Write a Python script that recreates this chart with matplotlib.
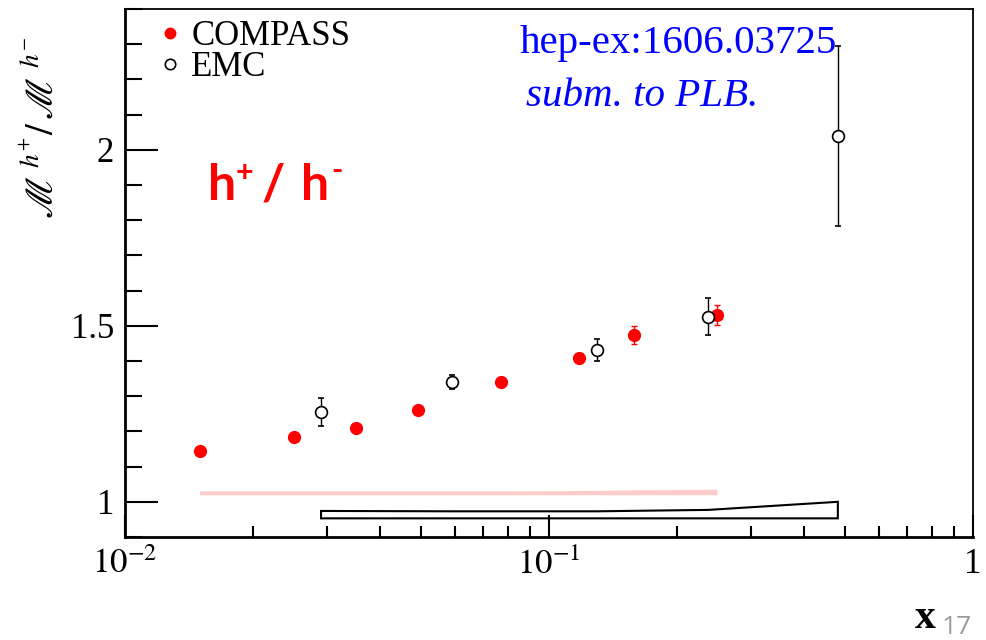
import numpy as np
import matplotlib
matplotlib.use("Agg")
import matplotlib.pyplot as plt
from matplotlib.lines import Line2D
from matplotlib.ticker import LogLocator, MultipleLocator, FixedLocator, NullFormatter

plt.rcParams['font.family'] = ['Liberation Serif', 'DejaVu Serif']
plt.rcParams['mathtext.fontset'] = 'stix'

# COMPASS h+/h- multiplicity ratio
x_compass = [0.015, 0.025, 0.035, 0.049, 0.077, 0.118, 0.159, 0.249]
y_compass = [1.145, 1.185, 1.210, 1.260, 1.341, 1.409, 1.474, 1.531]
e_compass = [0.005, 0.005, 0.006, 0.007, 0.008, 0.010, 0.026, 0.028]
syst_compass = [0.011, 0.011, 0.011, 0.011, 0.011, 0.012, 0.014, 0.016]

# EMC
x_emc = [0.029, 0.059, 0.130, 0.2375, 0.48]
y_emc = [1.256, 1.341, 1.432, 1.526, 2.04]
e_emc = [0.040, 0.020, 0.031, 0.053, 0.256]
syst_emc_top = [0.974, 0.973, 0.973, 0.977, 1.000]
syst_emc_bottom = 0.953

fig = plt.figure(figsize=(9.86, 6.4), dpi=100)
ax = fig.add_axes([125/986, 103/640, 848/986, 528/640])

ax.set_xscale('log')
ax.set_xlim(0.01, 1)
ax.set_ylim(0.9, 2.4)

# systematic bands
ax.fill_between(x_compass, 1.02, np.array(syst_compass) + 1.02,
                color='#ffcccc', lw=0, zorder=1)
poly_x = list(x_emc) + list(x_emc[::-1])
poly_y = list(syst_emc_top) + [syst_emc_bottom] * len(x_emc)
ax.fill(poly_x, poly_y, facecolor='white', edgecolor='black', lw=1.5, zorder=1)

ax.errorbar(x_compass, y_compass, yerr=e_compass, fmt='o', color='red',
            ms=8.5, capsize=2, elinewidth=1, zorder=3)
ax.errorbar(x_emc, y_emc, yerr=e_emc, fmt='o', color='black', mfc='white',
            mec='black', ms=8.5, mew=1.2, capsize=2, elinewidth=1, zorder=3)

# ticks ROOT style
ax.xaxis.set_major_locator(FixedLocator([0.01, 0.1, 1]))
ax.xaxis.set_minor_locator(LogLocator(base=10, subs=np.arange(2, 10)))
ax.xaxis.set_minor_formatter(NullFormatter())
ax.set_xticklabels([r'$10^{-2}$', r'$10^{-1}$', '1'])
ax.yaxis.set_major_locator(FixedLocator([1, 1.5, 2]))
ax.yaxis.set_minor_locator(MultipleLocator(0.1))
ax.set_yticklabels(['1', '1.5', '2'])
ax.tick_params(axis='both', which='both', direction='in', top=False, right=False,
               labelsize=25, width=1.5)
ax.tick_params(axis='y', which='major', length=24, pad=8)
ax.tick_params(axis='y', which='minor', length=12)
ax.tick_params(axis='x', which='major', length=16, pad=8)
ax.tick_params(axis='x', which='minor', length=8)
for s in ['left', 'bottom']:
    ax.spines[s].set_linewidth(2)
for s in ['top', 'right']:
    ax.spines[s].set_linewidth(1.3)

handles = [Line2D([], [], ls='none', marker='o', color='red', ms=7.5),
           Line2D([], [], ls='none', marker='o', mfc='white', mec='black', ms=7.5, mew=1.2)]
ax.legend(handles, ['COMPASS', 'EMC'], loc='upper left', bbox_to_anchor=(0.027, 1.006),
          frameon=False, fontsize=25, handlelength=0.5, handletextpad=0.35,
          labelspacing=-0.05, borderaxespad=0)

fig.text(520/986, 1 - 43/640, 'hep-ex:1606.03725', color='blue', fontsize=29.5,
         ha='left', va='center')
fig.text(526/986, 1 - 97/640, 'subm. to PLB.', color='blue', fontsize=29.5,
         style='italic', ha='left', va='center')

# h+ / h- label, built from pieces
sans = ['Lato', 'DejaVu Sans']
for s, px, py, fs in [('h', 208, 200, 36), ('+', 236, 182, 22), ('/', 262, 200, 36),
                      ('h', 301, 200, 36), ('-', 331, 180, 22)]:
    fig.text(px/986, 1 - py/640, s, color='red', fontsize=fs, fontweight='bold',
             family=sans, ha='left', va='baseline')

fig.text(43/986, 1 - 128/640, r'$\mathscr{M}^{\;h^{+}}/\,\mathscr{M}^{\;h^{-}}$',
         rotation=90, fontsize=28, ha='center', va='center')
fig.text(925/986, 1 - 618/640, 'x', fontsize=30, fontweight='bold',
         ha='center', va='center')
fig.text(957/986, 1 - 627/640, '17', fontsize=19, color='#9a9a9a',
         family=['Open Sans', 'DejaVu Sans'], ha='center', va='center')

fig.savefig('out.png', dpi=100)
